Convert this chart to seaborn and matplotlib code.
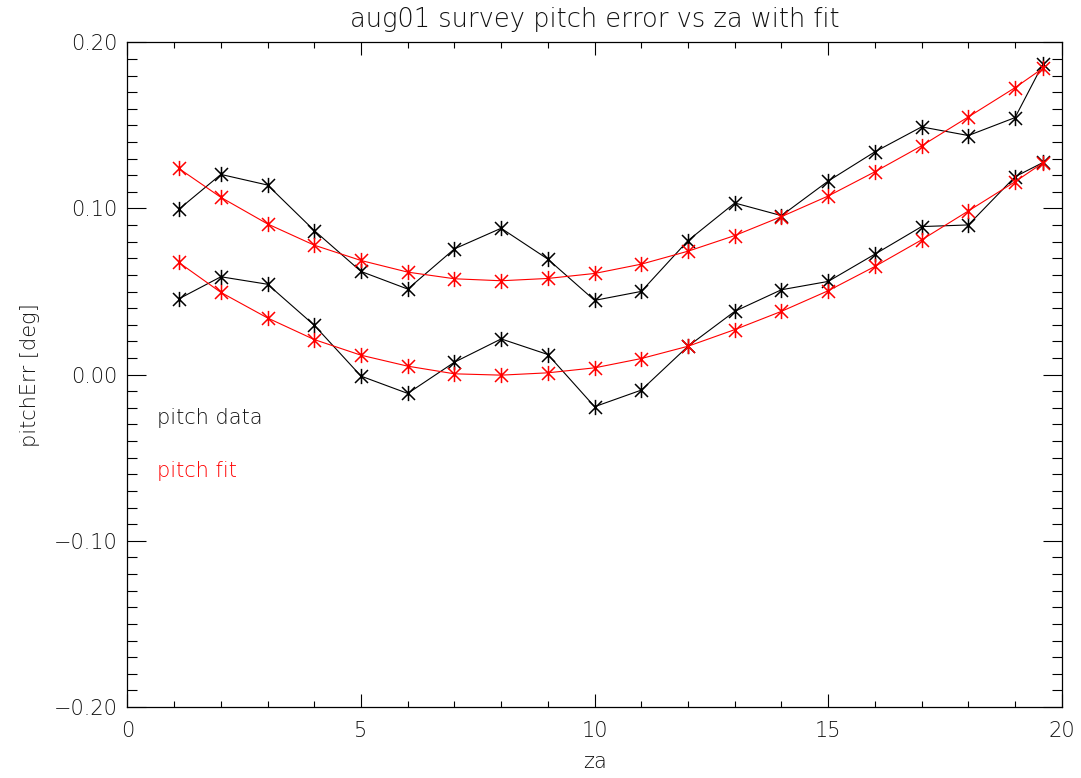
import numpy as np
import pandas as pd
import matplotlib
matplotlib.use("Agg")
import matplotlib.pyplot as plt
from matplotlib.path import Path
from matplotlib.ticker import MultipleLocator, FixedLocator
import seaborn as sns

# zenith angle samples
za = [1.1, 2, 3, 4, 5, 6, 7, 8, 9, 10, 11, 12, 13, 14, 15, 16, 17, 18, 19, 19.6]

# measured pitch error, two passes
pitch_data_a = [0.0995, 0.1205, 0.1141, 0.0867, 0.0621, 0.0515, 0.0757, 0.0881, 0.0695, 0.0447,
                0.0501, 0.0807, 0.1033, 0.0957, 0.1165, 0.1341, 0.1491, 0.1439, 0.1547, 0.1871]
pitch_data_b = [0.0456, 0.0589, 0.0544, 0.0297, -0.0009, -0.0113, 0.0075, 0.0215, 0.0121, -0.0193,
                -0.0093, 0.0171, 0.0381, 0.0511, 0.0561, 0.0725, 0.0891, 0.0901, 0.1191, 0.1277]

# fitted pitch error at the same za
pitch_fit_a = [0.1241, 0.1067, 0.0907, 0.0779, 0.0687, 0.0617, 0.0577, 0.0565, 0.0579, 0.0609,
               0.0665, 0.0743, 0.0837, 0.0951, 0.1075, 0.1221, 0.1377, 0.1551, 0.1727, 0.1845]
pitch_fit_b = [0.0675, 0.0495, 0.0341, 0.0211, 0.0117, 0.0051, 0.0005, -0.0003, 0.0011, 0.0041,
               0.0097, 0.0171, 0.0271, 0.0381, 0.0505, 0.0651, 0.0811, 0.0985, 0.1161, 0.1275]

x_ticks = [0, 5, 10, 15, 20]
x_tick_labels = ["0", "5", "10", "15", "20"]
y_ticks = [-0.2, -0.1, 0.0, 0.1, 0.2]
y_tick_labels = ["\u22120.20", "\u22120.10", "0.00", "0.10", "0.20"]

sns.set_style("ticks")
plt.rcParams["font.family"] = ["DejaVu Sans"]
plt.rcParams["font.weight"] = "light"
plt.rcParams["axes.labelweight"] = "light"
plt.rcParams["axes.titleweight"] = "light"

TEXT = "#111111"
FS = 15

# six-armed asterisk symbol (vertical stroke plus an X)
asterisk = Path(
    [(0, -1), (0, 1), (-0.85, -0.85), (0.85, 0.85), (-0.85, 0.85), (0.85, -0.85)],
    [Path.MOVETO, Path.LINETO, Path.MOVETO, Path.LINETO, Path.MOVETO, Path.LINETO],
)

fig = plt.figure(figsize=(10.81, 7.78), dpi=100)
ax = fig.add_axes([0.1179, 0.0913, 0.8643, 0.8543])

series = [
    (pitch_data_a, "black"),
    (pitch_data_b, "black"),
    (pitch_fit_a, "#ff0000"),
    (pitch_fit_b, "#ff0000"),
]
for values, col in series:
    df = pd.DataFrame({"za": za, "pitchErr": values})
    sns.lineplot(data=df, x="za", y="pitchErr", ax=ax, color=col, linewidth=0.8,
                 marker=asterisk, markersize=11, markeredgewidth=1.1,
                 markeredgecolor=col, markerfacecolor="none",
                 sort=False, estimator=None, legend=False)

ax.set_xlim(0, 20)
ax.set_ylim(-0.2, 0.2)

ax.xaxis.set_major_locator(FixedLocator(x_ticks))
ax.xaxis.set_minor_locator(MultipleLocator(1))
ax.yaxis.set_major_locator(FixedLocator(y_ticks))
ax.yaxis.set_minor_locator(MultipleLocator(0.01))
ax.set_xticklabels(x_tick_labels, fontweight="light")
ax.set_yticklabels(y_tick_labels, fontweight="light")

for s in ax.spines.values():
    s.set_visible(True)
    s.set_linewidth(0.9)
    s.set_color("black")

ax.tick_params(axis="x", which="major", direction="in", length=9.4, width=0.8,
               top=True, bottom=True, pad=10, labelsize=FS, labelcolor=TEXT, color="black")
ax.tick_params(axis="x", which="minor", direction="in", length=4.5, width=0.8,
               top=True, bottom=True, color="black")
ax.tick_params(axis="y", which="major", direction="in", length=13.7, width=0.8,
               left=True, right=True, pad=7, labelsize=FS, labelcolor=TEXT, color="black")
ax.tick_params(axis="y", which="minor", direction="in", length=7, width=0.8,
               left=True, right=True, color="black")

ax.set_xlabel("za", fontsize=FS, color=TEXT, va="center", fontweight="light")
ax.xaxis.set_label_coords(0.5, -0.083)
ax.set_ylabel("pitchErr [deg]", fontsize=FS, color=TEXT, va="center", fontweight="light")
ax.yaxis.set_label_coords(-0.104, 0.5)

fig.text(0.55, 1 - 20 / 778, "aug01 survey pitch error vs za with fit",
         ha="center", va="center", fontsize=18.5, color=TEXT, fontweight="light")

ax.text(0.0317, 0.435, "pitch data", transform=ax.transAxes, fontsize=FS,
        color=TEXT, ha="left", va="center", fontweight="light")
ax.text(0.0317, 0.355, "pitch fit", transform=ax.transAxes, fontsize=FS,
        color="#ff0000", ha="left", va="center", fontweight="light")

fig.savefig("out.png", dpi=100, facecolor="white")
